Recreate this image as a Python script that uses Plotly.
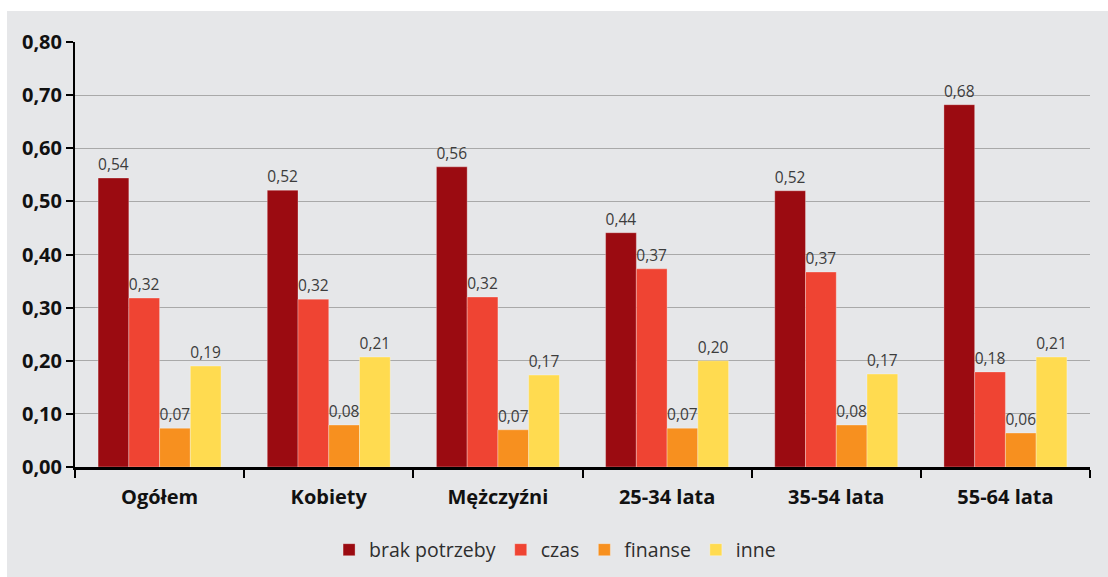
import plotly.graph_objects as go

# Data
categories = ["Ogółem", "Kobiety", "Mężczyźni", "25-34 lata", "35-54 lata", "55-64 lata"]
brak_potrzeby = [0.544, 0.521, 0.565, 0.441, 0.520, 0.682]
czas = [0.318, 0.316, 0.320, 0.373, 0.367, 0.179]
finanse = [0.073, 0.079, 0.070, 0.073, 0.079, 0.064]
inne = [0.190, 0.207, 0.173, 0.200, 0.175, 0.207]
y_ticks = [0.0, 0.1, 0.2, 0.3, 0.4, 0.5, 0.6, 0.7, 0.8]

series = [
    ("brak potrzeby", brak_potrzeby, "#9b0b11"),
    ("czas", czas, "#ef4433"),
    ("finanse", finanse, "#f7901f"),
    ("inne", inne, "#ffdb50"),
]

bg = "#e6e7e9"
font_family = "Open Sans, Noto Sans, sans-serif"

fig = go.Figure()
for name, vals, color in series:
    fig.add_trace(go.Bar(
        x=categories,
        y=vals,
        name=name,
        marker=dict(color=color, line=dict(color="rgba(255,255,255,0.5)", width=0.6)),
        text=[f"{v:.2f}".replace(".", ",") for v in vals],
        textposition="outside",
        textfont=dict(size=15.5, color="#3c3c3c", family=font_family),
        cliponaxis=False,
    ))

fig.update_layout(
    width=1108,
    height=577,
    barmode="group",
    bargap=0.273,
    bargroupgap=0,
    separators=", ",
    paper_bgcolor="white",
    plot_bgcolor=bg,
    margin=dict(l=75, r=18, t=42, b=110, autoexpand=False),
    font=dict(family=font_family, color="#111"),
    legend=dict(
        orientation="h",
        xref="container", x=0.297, xanchor="left",
        yref="container", y=(577 - 550) / 577, yanchor="middle",
        font=dict(size=19.5, color="#2e2e2e", family=font_family),
        bgcolor="rgba(0,0,0,0)",
        traceorder="normal",
    ),
    shapes=[dict(
        type="rect", xref="paper", yref="paper",
        x0=(7 - 75) / 1015, x1=1.1, y0=-0.35, y1=(467 - 11) / 425,
        fillcolor=bg, line=dict(width=0), layer="below",
    )],
)

fig.update_yaxes(
    range=[0, 0.8],
    tickvals=y_ticks,
    tickformat=".2f",
    showgrid=True,
    gridcolor="#a9a9a9",
    gridwidth=1,
    showline=True,
    linecolor="black",
    linewidth=2,
    ticks="outside",
    ticklen=7,
    tickwidth=2,
    tickcolor="black",
    tickfont=dict(size=20, color="#111", family="Open Sans, sans-serif", weight="bold"),
    zeroline=False,
)
fig.update_xaxes(
    showline=True,
    linecolor="black",
    linewidth=2.5,
    ticks="outside",
    tickson="boundaries",
    ticklen=8,
    tickwidth=2,
    tickcolor="black",
    tickfont=dict(size=20, color="#111", family="Open Sans, sans-serif", weight="bold"),
    ticklabelstandoff=10,
)

fig.write_html(
    "out.html",
    config={"displayModeBar": False},
    post_script="document.body.style.margin='0';",
)
